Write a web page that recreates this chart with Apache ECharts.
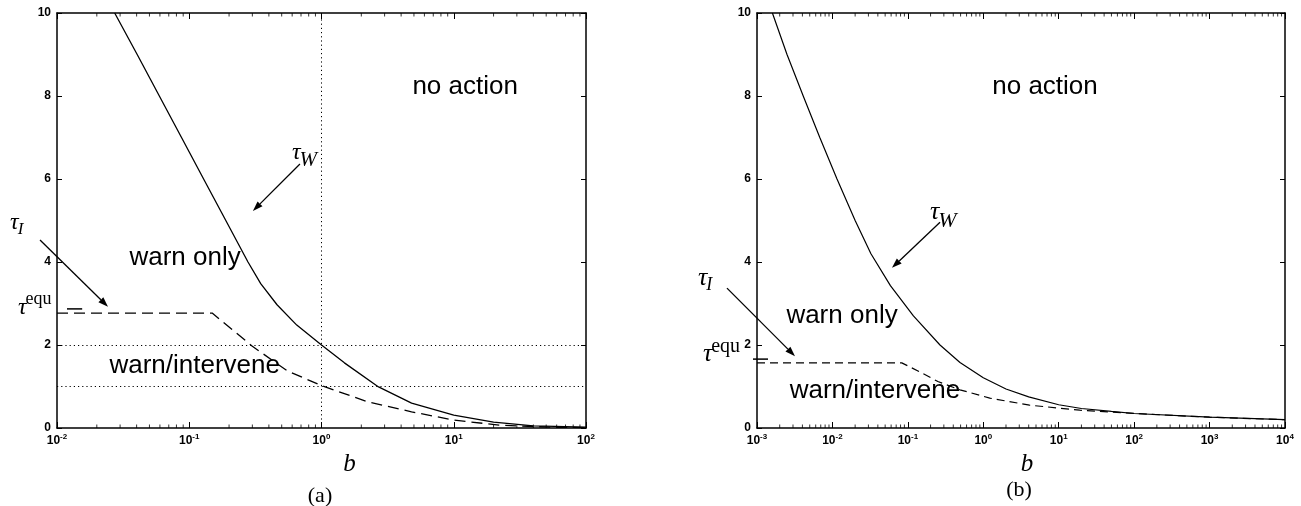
<!DOCTYPE html>
<html>
<head>
<meta charset="utf-8">
<script src="https://cdn.jsdelivr.net/npm/echarts@6/dist/echarts.min.js"></script>
<style>
  html, body { margin: 0; padding: 0; background: #fff; }
  #chart { width: 1301px; height: 506px; }
</style>
</head>
<body>
<div id="chart"></div>
<script>
// ---- panel (a): b from 1e-2 to 1e2 ----
const bA_W   = [0.0273, 0.0404, 0.0594, 0.0874, 0.1284, 0.189, 0.278, 0.347, 0.461, 0.65, 1, 1.49, 2.7, 4.8, 10, 20, 40, 100];
const tauA_W = [10, 9, 8, 7, 6, 5, 4, 3.48, 2.97, 2.48, 2.0, 1.57, 0.99, 0.6, 0.31, 0.14, 0.05, 0.02];
const bA_I   = [0.01, 0.149, 0.3, 0.55, 1, 2.24, 4.8, 10, 22, 53, 100];
const tauA_I = [2.77, 2.77, 1.97, 1.38, 1.02, 0.63, 0.39, 0.19, 0.07, 0.02, 0.01];
const refA_x = [1];        // dotted vertical line
const refA_y = [2, 1];     // dotted horizontal lines

// ---- panel (b): b from 1e-3 to 1e4 ----
const bB_W   = [0.0016, 0.0025, 0.0041, 0.0068, 0.0115, 0.02, 0.0324, 0.0587, 0.1185, 0.2667, 0.491, 1, 2, 4, 10, 20, 50, 100, 1000, 10000];
const tauB_W = [10, 9, 8, 7, 6, 5, 4.2, 3.43, 2.7, 2.0, 1.58, 1.21, 0.94, 0.75, 0.56, 0.47, 0.4, 0.35, 0.26, 0.2];
const bB_I   = [0.001, 0.083, 0.145, 0.25, 0.49, 1.22, 4.1, 19, 100, 1000, 10000];
const tauB_I = [1.57, 1.57, 1.35, 1.12, 0.92, 0.72, 0.55, 0.43, 0.35, 0.26, 0.2];

const yTicks = [0, 2, 4, 6, 8, 10];
const decadesA = [-2, 2];
const decadesB = [-3, 4];

// 区域文字 (数据坐标)
const notesA = [['no action', 12.2, 8.22], ['warn only', 0.093, 4.11], ['warn/intervene', 0.110, 1.51]];
const notesB = [['no action', 6.58, 8.22], ['warn only', 0.0134, 2.70], ['warn/intervene', 0.0366, 0.89]];

const SANS = '"Liberation Sans", Arial, Helvetica, sans-serif';
const SERIF = '"Liberation Serif", "Times New Roman", serif';

// 对数轴的次刻度 (2..9 × 10^k)
function minorTicks(dec) {
  const out = [];
  for (let k = dec[0]; k < dec[1]; k++) {
    for (let m = 2; m <= 9; m++) out.push(m * Math.pow(10, k));
  }
  return out;
}

const tickLabel = {
  margin: 5,
  formatter: v => '{b|10}{s|' + Math.round(Math.log10(v)) + '}',
  rich: {
    b: { fontSize: 12, fontWeight: 'bold', fontFamily: SANS, color: '#000', lineHeight: 16 },
    s: { fontSize: 8, fontWeight: 'bold', fontFamily: SANS, color: '#000', verticalAlign: 'top', lineHeight: 10 }
  }
};

function xAxes(gi, dec, nameShift, nameGap) {
  const base = {
    gridIndex: gi, type: 'log', logBase: 10, min: Math.pow(10, dec[0]), max: Math.pow(10, dec[1]),
    splitLine: { show: false },
    axisLine: { onZero: false, lineStyle: { color: '#000', width: 1.5 } },
    axisTick: { inside: true, length: 6, lineStyle: { color: '#000' } }
  };
  return [
    Object.assign({}, base, {
      position: 'bottom', axisLabel: tickLabel,
      name: 'b', nameLocation: 'middle', nameGap: nameGap,
      nameTextStyle: { fontFamily: SERIF, fontStyle: 'italic', fontSize: 25, color: '#000', padding: [0, 0, 0, nameShift] }
    }),
    Object.assign({}, base, { position: 'top', axisLabel: { show: false } })
  ];
}

function yAxes(gi) {
  const base = {
    gridIndex: gi, type: 'value', min: 0, max: 10, interval: 2,
    splitLine: { show: false },
    axisLine: { show: true, onZero: false, lineStyle: { color: '#000', width: 1.5 } },
    axisTick: { show: true, inside: true, length: 5, lineStyle: { color: '#000' } }
  };
  return [
    Object.assign({}, base, {
      position: 'left',
      axisLabel: { margin: 6, fontSize: 12, fontWeight: 'bold', fontFamily: SANS, color: '#000',
        formatter: v => yTicks.indexOf(v) >= 0 ? String(v) : '' }
    }),
    Object.assign({}, base, { position: 'right', axisLabel: { show: false } })
  ];
}

function pairs(xs, ys) { return xs.map((x, i) => [x, ys[i]]); }

// 次刻度用小竖线画在上下边框内侧
function minorSeries(xi, yi, dec) {
  const ticks = minorTicks(dec);
  const common = { type: 'scatter', xAxisIndex: xi, yAxisIndex: yi, silent: true, clip: false,
    symbol: 'rect', symbolSize: [1, 3.5], itemStyle: { color: '#000' }, z: 1 };
  return [
    Object.assign({}, common, { data: ticks.map(t => [t, 0]), symbolOffset: [0, -1.8] }),
    Object.assign({}, common, { data: ticks.map(t => [t, 10]), symbolOffset: [0, 1.8] })
  ];
}

const option = {
  animation: false,
  backgroundColor: '#fff',
  grid: [
    { left: 57, top: 13, width: 529, height: 415 },
    { left: 757, top: 13, width: 528, height: 415 }
  ],
  xAxis: [].concat(xAxes(0, decadesA, 56, 20), xAxes(1, decadesB, 12, 16)),
  yAxis: [].concat(yAxes(0), yAxes(1)),
  series: [
    {
      name: 'tauW_a', type: 'line', xAxisIndex: 0, yAxisIndex: 0,
      data: pairs(bA_W, tauA_W), showSymbol: false,
      lineStyle: { color: '#000', width: 1.3 },
      markLine: {
        silent: true, symbol: ['none', 'none'], label: { show: false },
        lineStyle: { color: '#000', width: 1, type: [1.2, 3] },
        data: refA_x.map(v => ({ xAxis: v })).concat(refA_y.map(v => ({ yAxis: v })))
      }
    },
    {
      name: 'tauI_a', type: 'line', xAxisIndex: 0, yAxisIndex: 0,
      data: pairs(bA_I, tauA_I), showSymbol: false,
      lineStyle: { color: '#000', width: 1.3, type: [11, 6] }
    },
    {
      name: 'tauW_b', type: 'line', xAxisIndex: 2, yAxisIndex: 2,
      data: pairs(bB_W, tauB_W), showSymbol: false,
      lineStyle: { color: '#000', width: 1.2 }
    },
    {
      name: 'tauI_b', type: 'line', xAxisIndex: 2, yAxisIndex: 2,
      data: pairs(bB_I, tauB_I), showSymbol: false,
      lineStyle: { color: '#000', width: 1.2, type: [8, 5] }
    }
  ].concat(minorSeries(0, 0, decadesA), minorSeries(2, 2, decadesB))
};

const chart = echarts.init(document.getElementById('chart'));
chart.setOption(option);

// ---- 注释: 文字与箭头 ----
const ctx = document.createElement('canvas').getContext('2d');
function textW(str, font) { ctx.font = font; return ctx.measureText(str).width; }
function P(si, b, v) { return chart.convertToPixel({ seriesIndex: si }, [b, v]); }

function txt(x, baseline, str, size, family, italic, align) {
  return {
    type: 'text', x: x, y: baseline - 0.32 * size, silent: true,
    style: { text: str, fontSize: size, fontFamily: family, fontStyle: italic ? 'italic' : 'normal',
      fill: '#000', align: align || 'left', verticalAlign: 'middle' }
  };
}

function arrow(p0, p1) {
  const dx = p1[0] - p0[0], dy = p1[1] - p0[1];
  const len = Math.sqrt(dx * dx + dy * dy), ux = dx / len, uy = dy / len;
  const hl = 10, hw = 3.5;
  const bx = p1[0] - ux * hl, by = p1[1] - uy * hl;
  return [
    { type: 'line', silent: true, shape: { x1: p0[0], y1: p0[1], x2: bx, y2: by },
      style: { stroke: '#000', lineWidth: 1.3 } },
    { type: 'polygon', silent: true,
      shape: { points: [[p1[0], p1[1]], [bx - uy * hw, by + ux * hw], [bx + uy * hw, by - ux * hw]] },
      style: { fill: '#000' } }
  ];
}

// τ 加上下标; 锚点 = τ 的左侧基线
function tau(si, b, v, size, sub, subSize, subDy, subItalic) {
  const p = P(si, b, v);
  const w = textW('τ', 'italic ' + size + 'px ' + SERIF);
  return [
    txt(p[0], p[1], 'τ', size, SERIF, true),
    txt(p[0] + w - 1, p[1] + subDy, sub, subSize, SERIF, subItalic)
  ];
}

let g = [];
notesA.forEach(n => { const p = P(0, n[1], n[2]); g.push(txt(p[0], p[1] + 0.32 * 26, n[0], 26, SANS, false, 'center')); });
notesB.forEach(n => { const p = P(2, n[1], n[2]); g.push(txt(p[0], p[1] + 0.32 * 26, n[0], 26, SANS, false, 'center')); });

// panel (a)
g = g.concat(arrow(P(0, 0.687, 6.36), P(0, 0.303, 5.23)));
g = g.concat(arrow(P(0, 0.00744, 4.53), P(0, 0.0243, 2.92)));
g = g.concat(tau(0, 0.598, 6.46, 24, 'W', 21, 7, true));
g = g.concat(tau(0, 0.00442, 4.77, 24, 'I', 17, 5, true));
g = g.concat(tau(0, 0.00507, 2.72, 24, 'equ', 18, -10, false));
(function () {
  const a = P(0, 0.0119, 2.87), c = P(0, 0.0155, 2.87);
  g.push({ type: 'line', silent: true, shape: { x1: a[0], y1: a[1], x2: c[0], y2: c[1] }, style: { stroke: '#000', lineWidth: 1.5 } });
})();

// panel (b)
g = g.concat(arrow(P(2, 0.267, 4.96), P(2, 0.0616, 3.86)));
g = g.concat(arrow(P(2, 0.0004, 3.37), P(2, 0.00319, 1.73)));
g = g.concat(tau(2, 0.197, 5.01, 26, 'W', 22, 8, true));
g = g.concat(tau(2, 0.000165, 3.40, 26, 'I', 18, 4, true));
g = g.concat(tau(2, 0.000192, 1.57, 26, 'equ', 20, -10, false));
(function () {
  const a = P(2, 0.000885, 1.66), c = P(2, 0.0014, 1.66);
  g.push({ type: 'line', silent: true, shape: { x1: a[0], y1: a[1], x2: c[0], y2: c[1] }, style: { stroke: '#000', lineWidth: 1.5 } });
})();

// 子图标号
g.push(txt(320, 503, '(a)', 22, SERIF, false, 'center'));
g.push(txt(1019, 497, '(b)', 22, SERIF, false, 'center'));

chart.setOption({ graphic: g });
</script>
</body>
</html>
